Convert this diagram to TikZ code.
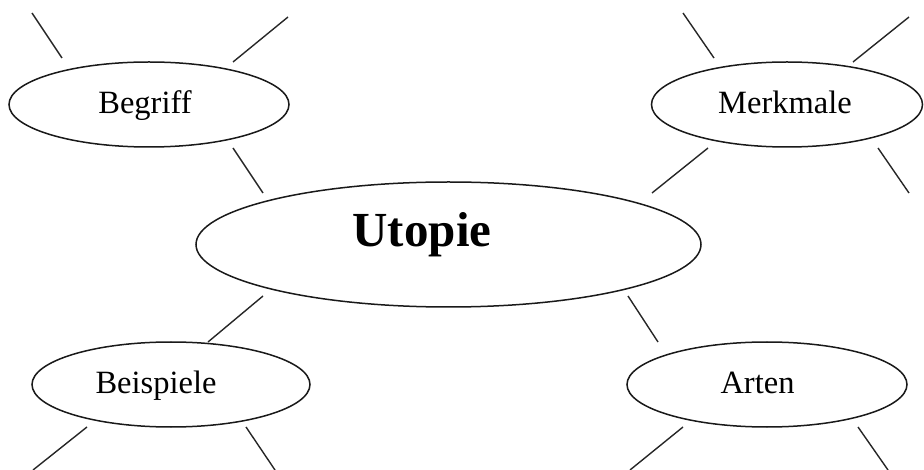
\documentclass[tikz,border=0pt]{standalone}
\usepackage{fontspec}
\setmainfont{Liberation Serif}
\usetikzlibrary{shapes.geometric}
\tikzset{
  oval/.style={draw=black!90, line width=1.5pt, ellipse, inner sep=0pt, fill=white},
  ray/.style={draw=black!85, line width=1.4pt},
  lbl/.style={anchor=base, inner sep=0pt, font=\fontsize{32.5}{38}\selectfont},
  big/.style={anchor=base, inner sep=0pt, font=\fontsize{49}{58}\selectfont\bfseries}
}
\begin{document}
\begin{tikzpicture}[x=1pt,y=-1pt]
\useasboundingbox (0,0) rectangle (924,470);
% ellipses
\node[oval, minimum width=505pt, minimum height=125pt] (u) at (448.5,244.5) {};
\node[oval, minimum width=280pt, minimum height=85pt] (b) at (149,104.5) {};
\node[oval, minimum width=271pt, minimum height=85pt] (m) at (787,104.5) {};
\node[oval, minimum width=278pt, minimum height=85pt] (bs) at (171,384.5) {};
\node[oval, minimum width=280pt, minimum height=85pt] (a) at (767,384.5) {};
% texts
\node[big] (ut) at (422,247) {Utopie};
\node[lbl] (bt) at (145,114) {Begriff};
\node[lbl] (mt) at (785,114) {Merkmale};
\node[lbl] (bst) at (156,393) {Beispiele};
\node[lbl] (at) at (757.5,393) {Arten};
% ray ends
\coordinate (b1o) at (32,13);   \coordinate (b1i) at (62,58);
\coordinate (b2o) at (288,17);  \coordinate (b2i) at (233,62);
\coordinate (b3i) at (233,148); \coordinate (u1) at (263,193);
\coordinate (m1o) at (683,13);  \coordinate (m1i) at (714,58);
\coordinate (m2o) at (909,17);  \coordinate (m2i) at (853,62);
\coordinate (m3i) at (708,148); \coordinate (u2) at (652,193);
\coordinate (m4i) at (878,148); \coordinate (m4o) at (909,193);
\coordinate (u3) at (263,296);  \coordinate (bs1i) at (208,342);
\coordinate (bs2i) at (87,427); \coordinate (bs2o) at (33,470);
\coordinate (bs3i) at (246,427);\coordinate (bs3o) at (275,470);
\coordinate (u4) at (628,296);  \coordinate (a1i) at (658,342);
\coordinate (a2i) at (683,427); \coordinate (a2o) at (630,470);
\coordinate (a3i) at (858,427); \coordinate (a3o) at (888,470);
% rays
\draw[ray] (b1o) -- (b1i);
\draw[ray] (b2o) -- (b2i);
\draw[ray] (b3i) -- (u1);
\draw[ray] (m1o) -- (m1i);
\draw[ray] (m2o) -- (m2i);
\draw[ray] (m3i) -- (u2);
\draw[ray] (m4i) -- (m4o);
\draw[ray] (u3) -- (bs1i);
\draw[ray] (bs2i) -- (bs2o);
\draw[ray] (bs3i) -- (bs3o);
\draw[ray] (u4) -- (a1i);
\draw[ray] (a2i) -- (a2o);
\draw[ray] (a3i) -- (a3o);
\end{tikzpicture}
\end{document}
